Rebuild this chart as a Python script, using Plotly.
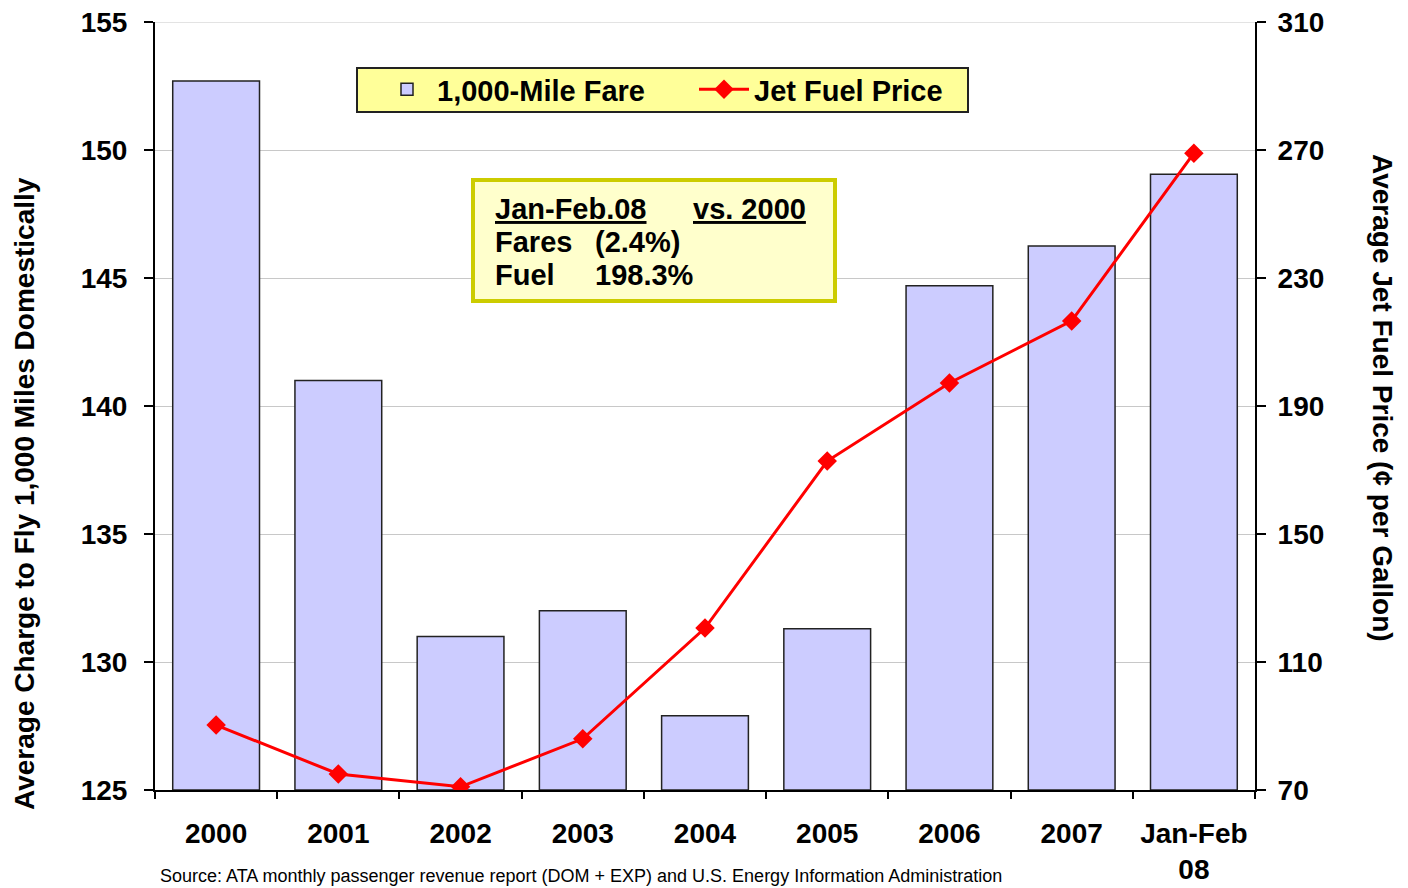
import plotly.graph_objects as go

categories = ["2000", "2001", "2002", "2003", "2004", "2005", "2006", "2007", "Jan-Feb<br>08"]
fare_values = [152.7, 141.0, 131.0, 132.0, 127.9, 131.3, 144.7, 146.25, 149.05]
fuel_values = [90.3, 75.0, 71.0, 86.0, 120.6, 172.8, 197.2, 216.6, 269.0]
left_ticks = [125, 130, 135, 140, 145, 150, 155]
right_ticks = [70, 110, 150, 190, 230, 270, 310]

FONT = "Arial, Liberation Sans, sans-serif"

# The page body has an 8px margin: figure is drawn at (8, 8) in the window.
FIG_W, FIG_H = 1400, 880

fig = go.Figure()
fig.add_trace(go.Bar(
    x=categories, y=[v - 125 for v in fare_values], base=125,
    name="1,000-Mile Fare",
    marker=dict(color="#CCCCFF", line=dict(color="#222222", width=1.5)),
    width=0.71, yaxis="y",
))
fig.add_trace(go.Scatter(
    x=categories, y=fuel_values, name="Jet Fuel Price", mode="lines+markers",
    line=dict(color="#FF0000", width=3),
    marker=dict(symbol="diamond", size=15, color="#FF0000"),
    yaxis="y2",
))

tick_font = dict(family=FONT, size=28, color="#000000", weight="bold")

fig.update_layout(
    width=FIG_W, height=FIG_H,
    margin=dict(l=147, r=153, t=14, b=98, autoexpand=False),
    paper_bgcolor="white", plot_bgcolor="white",
    font=dict(family=FONT, color="#000000"),
    showlegend=True,
    legend=dict(
        orientation="h", x=(377 - 155) / 1100.0, y=(790 - 64) / 768.0,
        xanchor="left", yanchor="top",
        bgcolor="rgba(0,0,0,0)", borderwidth=0,
        font=dict(family=FONT, size=29, color="#000000", weight="bold"),
        entrywidth=252, itemwidth=50,
    ),
    xaxis=dict(
        type="category", showgrid=False, showline=True, linecolor="#000000", linewidth=2,
        ticks="outside", tickson="boundaries", ticklen=7, tickcolor="#000000", tickwidth=1.5,
        tickfont=tick_font, range=[-0.5, 8.5], automargin=False, ticklabelstandoff=17,
        ticklabeloverflow="allow",
    ),
    yaxis=dict(
        range=[125, 155], tickvals=left_ticks, showgrid=True, gridcolor="#C8C8C8", gridwidth=1,
        showline=True, linecolor="#000000", linewidth=2, ticks="outside", ticklen=9,
        tickcolor="#000000", tickwidth=1.5, tickfont=tick_font,
        zeroline=False, ticklabelstandoff=11, automargin=False, ticklabeloverflow="allow",
    ),
    yaxis2=dict(
        range=[70, 310], tickvals=right_ticks, overlaying="y", side="right", showgrid=False,
        showline=True, linecolor="#000000", linewidth=2, ticks="outside", ticklen=9,
        tickcolor="#000000", tickwidth=1.5, tickfont=tick_font,
        zeroline=False, ticklabelstandoff=6, automargin=False, ticklabeloverflow="allow",
    ),
)

def px_x(px):
    return (px - 155) / 1100.0

def px_y(py):
    return (790 - py) / 768.0

# Top gridline (at 155)
fig.add_shape(type="line", xref="paper", yref="y", x0=0, x1=1, y0=155, y1=155,
              line=dict(color="#C8C8C8", width=1), layer="below")

# Legend box
fig.add_shape(type="rect", xref="paper", yref="paper",
              x0=px_x(357), x1=px_x(968), y0=px_y(112), y1=px_y(68),
              fillcolor="#FFFF99", line=dict(color="#222222", width=2), layer="above")

# Annotation box
fig.add_shape(type="rect", xref="paper", yref="paper",
              x0=px_x(473), x1=px_x(835), y0=px_y(301), y1=px_y(180),
              fillcolor="#FFFFCC", line=dict(color="#CCCC00", width=4), layer="above")

box_font = dict(family=FONT, size=29, color="#000000", weight="bold")
box_texts = [
    ("<u>Jan-Feb.08</u>", 493, 209),
    ("<u>vs. 2000</u>", 691, 209),
    ("Fares", 493, 242),
    ("(2.4%)", 593, 242),
    ("Fuel", 493, 275),
    ("198.3%", 593, 275),
]
for txt, x, y in box_texts:
    fig.add_annotation(text=txt, xref="paper", yref="paper", x=px_x(x), y=px_y(y),
                       xanchor="left", yanchor="middle", showarrow=False, font=box_font)

# Axis titles
title_font = dict(family=FONT, size=28, color="#000000", weight="bold")
fig.add_annotation(text="Average Charge to Fly 1,000 Miles Domestically", xref="paper", yref="paper",
                   x=px_x(25), y=px_y(494), xanchor="center", yanchor="middle", textangle=-90,
                   showarrow=False, font=title_font)
fig.add_annotation(text="Average Jet Fuel Price (¢ per Gallon)", xref="paper", yref="paper",
                   x=px_x(1383), y=px_y(398), xanchor="center", yanchor="middle", textangle=90,
                   showarrow=False, font=title_font)

# Source
fig.add_annotation(text="Source: ATA monthly passenger revenue report (DOM + EXP) and U.S. Energy Information Administration",
                   xref="paper", yref="paper", x=px_x(158), y=px_y(876), xanchor="left", yanchor="middle",
                   showarrow=False, font=dict(family=FONT, size=18, color="#000000"))

fig.write_html("out.html")
